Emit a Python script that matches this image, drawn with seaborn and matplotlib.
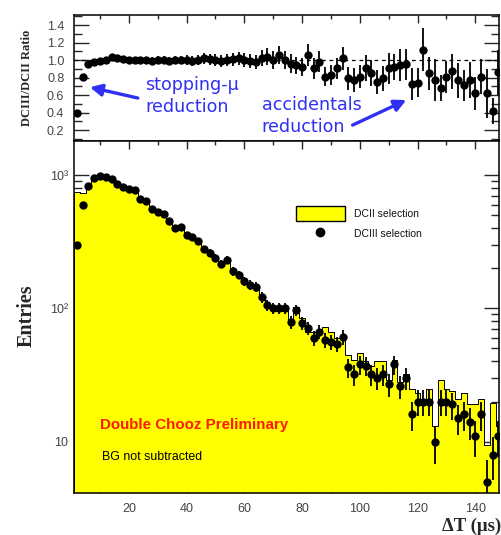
import numpy as np
import pandas as pd
import matplotlib
matplotlib.use("Agg")
import matplotlib.pyplot as plt
import seaborn as sns
from matplotlib.ticker import MultipleLocator, FixedLocator, FixedFormatter, NullFormatter, LogLocator
from matplotlib.lines import Line2D
from matplotlib.patches import Patch

# ---------------- data ----------------
bin_centers = list(range(2, 150, 2))  # Delta T bin centres (us), 2 us bins

dcii_counts = [745, 736, 861, 964, 990, 970, 908, 843, 807, 785,
               770, 660, 635, 561, 530, 512, 460, 400, 405, 355,
               348, 322, 272, 259, 240, 217, 230, 188, 175, 160,
               152, 148, 119, 102, 100, 95, 100, 82, 103, 84,
               67, 66, 68, 72, 67, 60, 60, 45, 41, 46,
               40, 37, 40, 40, 29, 41, 28, 32, 25, 23,
               20, 25, 13, 29, 25, 24, 21, 23, 19, 19,
               21, 9.4, 19.5, 13]

dciii_counts = [298, 596, 827, 945, 980, 970, 935, 860, 815, 785,
                770, 660, 635, 555, 530, 512, 455, 400, 405, 355,
                345, 322, 277, 262, 240, 215, 230, 190, 178, 160,
                150, 145, 121, 106, 100, 100, 100, 79, 97, 77,
                71, 60, 67, 58, 56, 54, 61, 36, 32, 38,
                37, 32, 30, 32, 27, 38, 26, 30, 16, 20,
                20, 20, 10, 20, 20, 19, 15, 16, 14, 11,
                16, 5, 8, 11]

ratio_values = [0.40, 0.81, 0.96, 0.98, 0.99, 1.00, 1.03, 1.02, 1.01, 1.00,
                1.00, 1.00, 1.00, 0.99, 1.00, 1.00, 0.99, 1.00, 1.00, 1.00,
                0.99, 1.00, 1.02, 1.01, 1.00, 0.99, 1.00, 1.01, 1.02, 1.00,
                0.99, 0.98, 1.02, 1.04, 1.00, 1.057, 1.00, 0.96, 0.94, 0.92,
                1.057, 0.905, 0.98, 0.81, 0.83, 0.905, 1.02, 0.79, 0.77, 0.81,
                0.905, 0.85, 0.75, 0.79, 0.905, 0.92, 0.94, 0.95, 0.73, 0.74,
                1.12, 0.85, 0.77, 0.68, 0.81, 0.87, 0.77, 0.71, 0.77, 0.62,
                0.81, 0.62, 0.42, 0.86]

x_ticks = [20, 40, 60, 80, 100, 120, 140]
ratio_ticks = [0.2, 0.4, 0.6, 0.8, 1.0, 1.2, 1.4]
ratio_tick_labels = ["0.2", "0.4", "0.6", "0.8", "1.0", "1.2", "1.4"]
entries_ticks = [10, 100, 1000]
entries_tick_labels = ["10", "10\u00b2", "10\u00b3"]

df = pd.DataFrame({"dT": bin_centers, "dcii": dcii_counts,
                   "dciii": dciii_counts, "ratio": ratio_values})
df["dciii_err"] = np.sqrt(df["dciii"])
df["ratio_err"] = df["ratio"] / np.sqrt(df["dciii"])
bin_edges = [float(v) for v in np.arange(1, 151, 2)]

# ---------------- style ----------------
sns.set_style("white")
plt.rcParams["font.family"] = ["Liberation Sans", "DejaVu Sans"]
plt.rcParams["axes.linewidth"] = 1.1

W, H = 501, 535
fig = plt.figure(figsize=(W / 100, H / 100), dpi=100)
L, R = 74, 499
ax_top = fig.add_axes([L / W, 1 - 141 / H, (R - L) / W, (141 - 15) / H])
ax_bot = fig.add_axes([L / W, 1 - 493 / H, (R - L) / W, (493 - 141) / H])

xlim = (1, 148.2)
lab_color = "#444444"

# ---------------- bottom panel ----------------
ax_bot.set_yscale("log")
sns.histplot(data=df, x="dT", weights="dcii", bins=bin_edges, element="step",
             fill=True, color="#ffff00", alpha=1.0, edgecolor="black",
             linewidth=0.7, ax=ax_bot, zorder=1)
ax_bot.errorbar(df["dT"], df["dciii"], yerr=df["dciii_err"], fmt="none",
                ecolor="black", elinewidth=1.3, zorder=2)
sns.scatterplot(data=df, x="dT", y="dciii", color="black", s=36,
                linewidth=0, ax=ax_bot, zorder=3)
ax_bot.set_xlim(*xlim)
ax_bot.set_ylim(4.12, 1800)
ax_bot.set_xlabel("")
ax_bot.set_ylabel("")

ax_bot.xaxis.set_major_locator(FixedLocator(x_ticks))
ax_bot.xaxis.set_minor_locator(MultipleLocator(10))
ax_bot.yaxis.set_major_locator(FixedLocator(entries_ticks))
ax_bot.yaxis.set_major_formatter(FixedFormatter(entries_tick_labels))
ax_bot.yaxis.set_minor_locator(LogLocator(base=10, subs=np.arange(2, 10), numticks=20))
ax_bot.yaxis.set_minor_formatter(NullFormatter())
ax_bot.tick_params(axis="x", which="major", direction="in", length=6, width=1,
                   top=True, bottom=True, labelsize=9, labelcolor=lab_color, pad=7)
ax_bot.tick_params(axis="x", which="minor", direction="in", length=3, width=1,
                   top=True, bottom=True)
ax_bot.tick_params(axis="y", which="major", direction="in", length=11, width=1,
                   left=True, right=True, labelsize=9, labelcolor=lab_color, pad=4)
ax_bot.tick_params(axis="y", which="minor", direction="in", length=6, width=1,
                   left=True, right=True)

# legend
handles = [Patch(facecolor="#ffff00", edgecolor="black", linewidth=1.0),
           Line2D([], [], marker="o", linestyle="none", color="black", markersize=6)]
ax_bot.legend(handles, ["DCII selection", "DCIII selection"],
              loc="upper left", bbox_to_anchor=(296 / W, 1 - 206 / H),
              bbox_transform=fig.transFigure, frameon=False, fontsize=7.5,
              handlelength=4.7, handleheight=1.9, handletextpad=0.9,
              labelspacing=0.45, borderpad=0, borderaxespad=0, labelcolor="#111111")

ax_bot.text(10.0, 13.3, "Double Chooz Preliminary", color="#ff1a00",
            fontsize=10.9, fontweight="bold", va="center", ha="left",
            family="Liberation Sans")
ax_bot.text(10.6, 7.67, "BG not subtracted", color="black", fontsize=8.9,
            va="center", ha="left", family="Liberation Sans")

# ---------------- top panel ----------------
ax_top.axhline(1.0, color="black", linestyle=(0, (3, 3)), linewidth=0.9, zorder=1)
ax_top.errorbar(df["dT"], df["ratio"], yerr=df["ratio_err"], fmt="none",
                ecolor="black", elinewidth=1.3, zorder=2)
sns.scatterplot(data=df, x="dT", y="ratio", color="black", s=36,
                linewidth=0, ax=ax_top, zorder=3)
ax_top.set_xlim(*xlim)
ax_top.set_ylim(0.075, 1.515)
ax_top.set_xlabel("")
ax_top.set_ylabel("")
ax_top.xaxis.set_major_locator(FixedLocator(x_ticks))
ax_top.xaxis.set_minor_locator(MultipleLocator(10))
ax_top.yaxis.set_major_locator(FixedLocator(ratio_ticks))
ax_top.yaxis.set_major_formatter(FixedFormatter(ratio_tick_labels))
ax_top.yaxis.set_minor_locator(MultipleLocator(0.1))
ax_top.tick_params(axis="x", which="major", direction="in", length=6, width=1,
                   top=True, bottom=False, labelbottom=False)
ax_top.tick_params(axis="x", which="minor", direction="in", length=3, width=1,
                   top=True, bottom=False)
ax_top.tick_params(axis="y", which="major", direction="in", length=11, width=1,
                   left=True, right=True, labelsize=9, labelcolor=lab_color, pad=7)
ax_top.tick_params(axis="y", which="minor", direction="in", length=6, width=1,
                   left=True, right=True)

blue = "#3030f5"
tfs = 12.6
ax_top.text(25.6, 0.714, "stopping-\u03bc", color=blue, fontsize=tfs,
            va="center", ha="left", family="DejaVu Sans")
ax_top.text(25.6, 0.466, "reduction", color=blue, fontsize=tfs,
            va="center", ha="left", family="DejaVu Sans")
ax_top.text(66.0, 0.486, "accidentals", color=blue, fontsize=tfs,
            va="center", ha="left", family="DejaVu Sans")
ax_top.text(66.0, 0.234, "reduction", color=blue, fontsize=tfs,
            va="center", ha="left", family="DejaVu Sans")
arrow_kw = dict(arrowstyle="-|>,head_length=0.7,head_width=0.35", color=blue,
                lw=2.4, shrinkA=0, shrinkB=0)
ax_top.annotate("", xy=(6.5, 0.69), xytext=(23.1, 0.566), arrowprops=arrow_kw)
ax_top.annotate("", xy=(116.1, 0.543), xytext=(97.5, 0.257), arrowprops=arrow_kw)

# ---------------- axis titles ----------------
fig.text(27 / W, 1 - 78 / H, "DCIII/DCII Ratio", rotation=90, ha="center",
         va="center", fontsize=9, fontweight="bold", family="Liberation Serif")
fig.text(27 / W, 1 - 316 / H, "Entries", rotation=90, ha="center",
         va="center", fontsize=14.5, fontweight="bold", family="Liberation Serif")
fig.text(501 / W, 1 - 526 / H, "\u0394T (\u03bcs)", ha="right", va="center",
         fontsize=13.5, fontweight="bold", family="Liberation Serif")

for ax in (ax_top, ax_bot):
    for s in ax.spines.values():
        s.set_color("black")
        s.set_linewidth(1.1)

fig.savefig("out.png", dpi=100)
